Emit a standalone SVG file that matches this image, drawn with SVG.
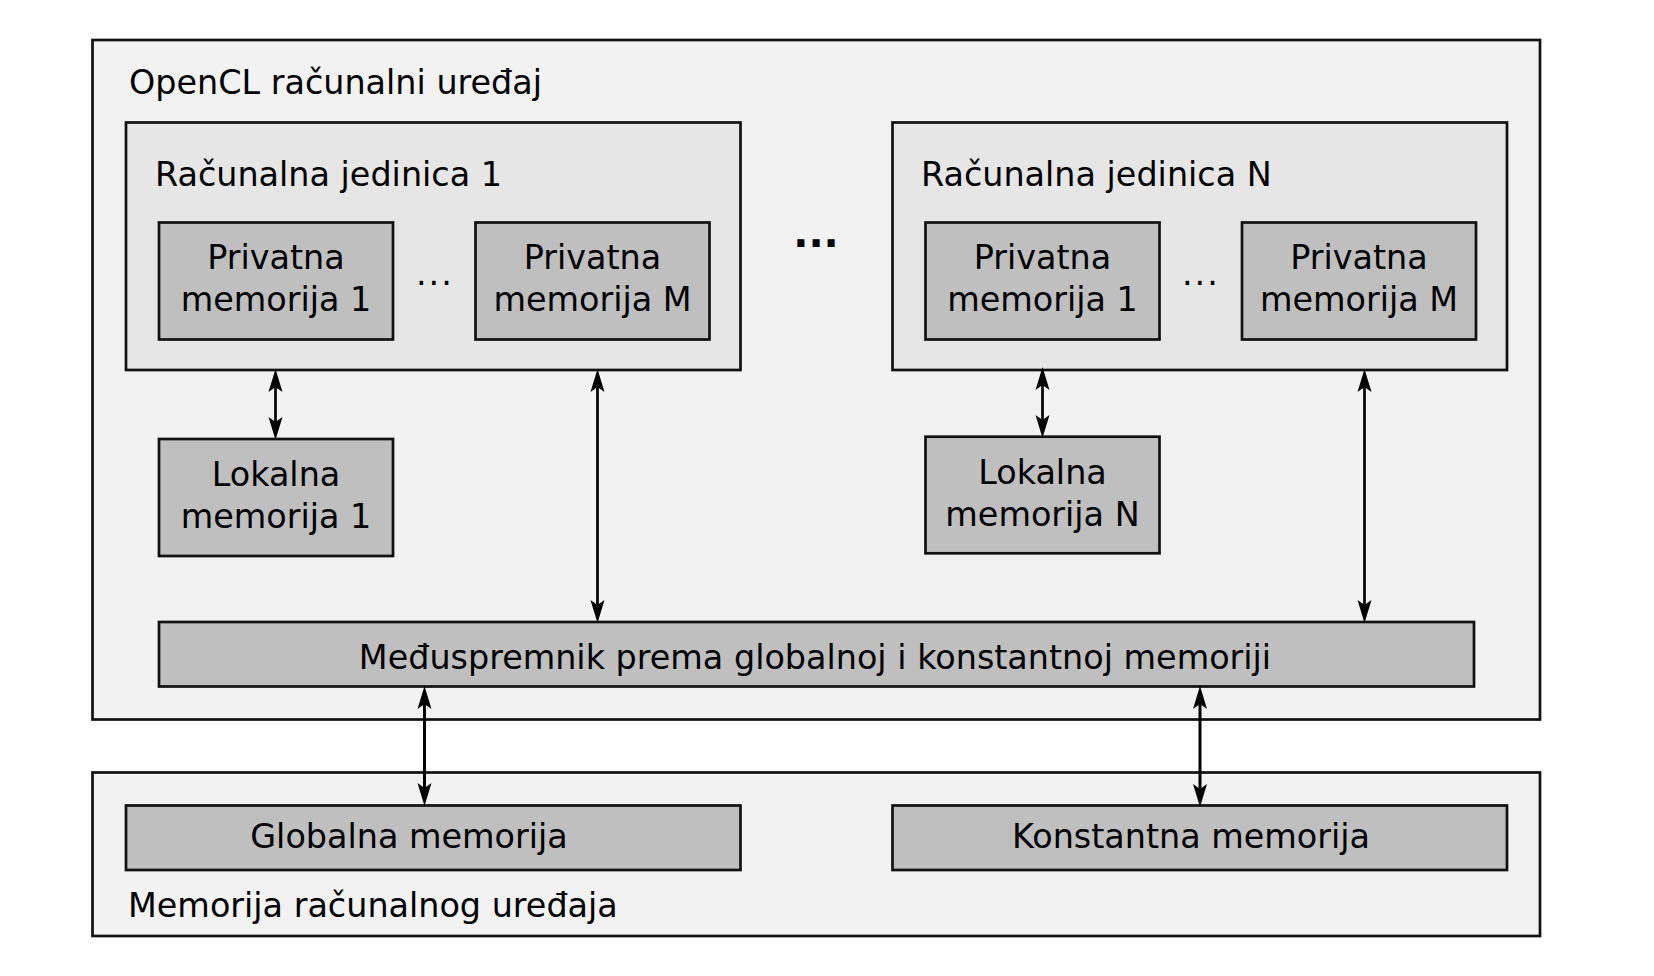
<svg xmlns="http://www.w3.org/2000/svg" width="1654" height="976" viewBox="0 0 1654 976">
<style>
.outer{fill:#f2f2f2;stroke:#111;stroke-width:2.7}
.unit{fill:#e6e6e6;stroke:#111;stroke-width:2.7}
.mem{fill:#bfbfbf;stroke:#111;stroke-width:2.7}
text{font-family:"DejaVu Sans",sans-serif;font-size:33.4px;fill:#000}
.c{text-anchor:middle}
.conn line{stroke:#000;stroke-width:2.7;marker-start:url(#ah);marker-end:url(#ah)}
</style>
<defs>
<marker id="ah" markerUnits="userSpaceOnUse" viewBox="-16 -8 26 16" markerWidth="26" markerHeight="16" refX="0" refY="0" orient="auto-start-reverse">
<path d="M9,0 L-14,-7 L-9,0 L-14,7 Z" fill="#000"/>
</marker>
</defs>
<g id="device">
<rect class="outer" x="92.5" y="40" width="1447.5" height="679.5"/>
<text x="129" y="94">OpenCL računalni uređaj</text>
</g>
<g id="unit1">
<rect class="unit" x="126" y="122.5" width="614.5" height="247.5"/>
<text x="155" y="185.5">Računalna jedinica 1</text>
</g>
<g id="priv1-1">
<rect class="mem" x="159" y="222.5" width="234" height="117"/>
<text class="c" x="276" y="268.5">Privatna</text>
<text class="c" x="276" y="310.5">memorija 1</text>
</g>
<text x="416" y="285" style="letter-spacing:2px">...</text>
<g id="privM-1">
<rect class="mem" x="475.5" y="222.5" width="234" height="117"/>
<text class="c" x="592.5" y="268.5">Privatna</text>
<text class="c" x="592.5" y="310.5">memorija M</text>
</g>
<text class="c" x="816" y="246.5" style="font-weight:bold;font-size:40px">...</text>
<g id="unitN">
<rect class="unit" x="892.5" y="122.5" width="614.5" height="247.5"/>
<text x="921" y="185.5">Računalna jedinica N</text>
</g>
<g id="priv1-N">
<rect class="mem" x="925.5" y="222.5" width="234" height="117"/>
<text class="c" x="1042.5" y="268.5">Privatna</text>
<text class="c" x="1042.5" y="310.5">memorija 1</text>
</g>
<text x="1182" y="285" style="letter-spacing:2px">...</text>
<g id="privM-N">
<rect class="mem" x="1242" y="222.5" width="234" height="117"/>
<text class="c" x="1359" y="268.5">Privatna</text>
<text class="c" x="1359" y="310.5">memorija M</text>
</g>
<g id="local1">
<rect class="mem" x="159" y="439" width="234" height="117"/>
<text class="c" x="276" y="485.5">Lokalna</text>
<text class="c" x="276" y="527.5">memorija 1</text>
</g>
<g id="localN">
<rect class="mem" x="925.5" y="436.7" width="234" height="116.6"/>
<text class="c" x="1042.5" y="483.5">Lokalna</text>
<text class="c" x="1042.5" y="525.5">memorija N</text>
</g>
<g id="buffer">
<rect class="mem" x="159" y="622" width="1315" height="64.5"/>
<text class="c" x="815" y="668.5">Međuspremnik prema globalnoj i konstantnoj memoriji</text>
</g>
<g id="devmem">
<rect class="outer" x="92.5" y="772.5" width="1447.5" height="163.5"/>
<text x="128" y="916.5">Memorija računalnog uređaja</text>
</g>
<g id="global">
<rect class="mem" x="126" y="805.5" width="614.5" height="64.5"/>
<text class="c" x="409" y="847.5">Globalna memorija</text>
</g>
<g id="constant">
<rect class="mem" x="892.5" y="805.5" width="614.5" height="64.5"/>
<text class="c" x="1191" y="847.5">Konstantna memorija</text>
</g>
<g class="conn" id="connectors">
<line x1="275.5" y1="378" x2="275.5" y2="431"/>
<line x1="597.5" y1="378" x2="597.5" y2="614"/>
<line x1="1042.5" y1="376" x2="1042.5" y2="429"/>
<line x1="1364.5" y1="378" x2="1364.5" y2="614"/>
<line x1="424.5" y1="695" x2="424.5" y2="797" style="stroke-width:3"/>
<line x1="1200" y1="695" x2="1200" y2="798" style="stroke-width:3"/>
</g>
</svg>
